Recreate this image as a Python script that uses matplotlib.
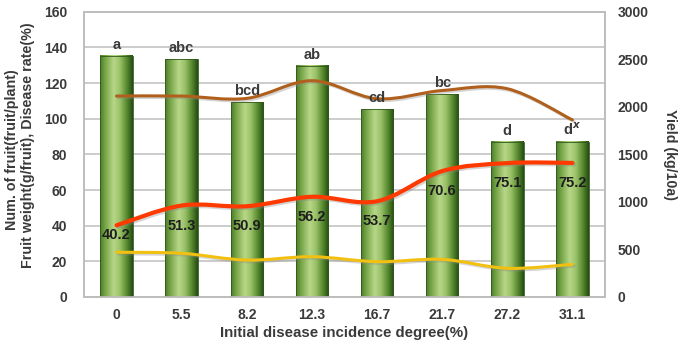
import numpy as np
import matplotlib
matplotlib.use('Agg')
import matplotlib.pyplot as plt
from matplotlib.path import Path
from matplotlib.patches import PathPatch
from matplotlib.colors import LinearSegmentedColormap
import matplotlib.patheffects as pe

plt.rcParams['font.family'] = ['Liberation Sans', 'DejaVu Sans']
plt.rcParams['font.weight'] = 'bold'

# data
incidence = ['0', '5.5', '8.2', '12.3', '16.7', '21.7', '27.2', '31.1']
yield_kg = [2535, 2500, 2048, 2432, 1974, 2131, 1633, 1633]
letters = ['a', 'abc', 'bcd', 'ab', 'cd', 'bc', 'd', 'd$^{x}$']
fruit_weight = [112.7, 112.7, 111.4, 121.3, 111.2, 115.8, 116.8, 99.3]
disease_rate = [40.2, 51.3, 50.9, 56.2, 53.7, 70.6, 75.1, 75.2]
num_fruit = [25.1, 24.5, 20.7, 22.6, 19.8, 21.1, 16.1, 18.3]

txt = '#3a3a3a'
grid_c = '#c8c8c8'


def smooth_path(xs, ys):
    # excel-like smoothed line: bezier segments through the points
    p = np.column_stack([xs, ys]).astype(float)
    verts = [p[0]]
    codes = [Path.MOVETO]
    n = len(p)
    for i in range(n - 1):
        p0 = p[i - 1] if i > 0 else p[i]
        p3 = p[i + 2] if i + 2 < n else p[i + 1]
        c1 = p[i] + (p[i + 1] - p0) / 6
        c2 = p[i + 1] - (p3 - p[i]) / 6
        verts += [c1, c2, p[i + 1]]
        codes += [Path.CURVE4] * 3
    return Path(verts, codes)


fig = plt.figure(figsize=(6.82, 3.59), dpi=100)
fig.subplots_adjust(left=84/682, right=605/682, top=1-11.7/359, bottom=1-297/359)
ax = fig.add_subplot(111)
ax2 = ax.twinx()

x = np.arange(len(incidence))
ax.set_xlim(-0.5, len(incidence) - 0.5)
ax.set_ylim(0, 160)
ax2.set_ylim(0, 3000)
ax.set_yticks(np.arange(0, 161, 20))
ax2.set_yticks(np.arange(0, 3001, 500))
ax.yaxis.grid(True, color=grid_c, lw=1.3)
ax.set_axisbelow(True)

for a in (ax, ax2):
    for s in a.spines.values():
        s.set_color('#bdbdbd')
        s.set_linewidth(1.2)
    a.tick_params(length=0, colors=txt, labelsize=10)
ax.tick_params(axis='y', pad=12)
ax2.tick_params(axis='y', pad=9)
ax.tick_params(axis='x', pad=8)
ax.set_xticks(x)
ax.set_xticklabels(incidence)
for lab in ax.get_xticklabels() + ax.get_yticklabels() + ax2.get_yticklabels():
    lab.set_fontweight('bold')

# bars (yield) with cylinder-like gradient
cmap = LinearSegmentedColormap.from_list('barg', [
    (0.0, '#4c7c28'), (0.15, '#77a447'), (0.42, '#b7d788'),
    (0.6, '#9cc26a'), (0.82, '#588a30'), (1.0, '#254d12')])
grad = np.linspace(0, 1, 64).reshape(1, -1)
bars = ax2.bar(x, yield_kg, width=0.5, color='none', edgecolor='#2f5a1a', lw=0.6, zorder=2)
for b in bars:
    ax2.imshow(grad, cmap=cmap, aspect='auto', zorder=1.9,
               extent=[b.get_x(), b.get_x() + b.get_width(), 0, b.get_height()])
ax2.set_xlim(-0.5, len(incidence) - 0.5)
ax2.set_ylim(0, 3000)

for b, l in zip(bars, letters):
    ax2.annotate(l, (b.get_x() + b.get_width() / 2, b.get_height()),
                 xytext=(0, 3), textcoords='offset points', ha='center', va='bottom',
                 fontsize=10.5, color=txt, fontweight='bold', zorder=5)

# lines on left scale, drawn above bars
shadow = [pe.SimpleLineShadow(offset=(1.2, -1.2), shadow_color='#888888', alpha=0.35), pe.Normal()]
for vals, col, lw in [(fruit_weight, '#b0601c', 2.2), (num_fruit, '#f2c010', 2.2),
                      (disease_rate, '#ff3a00', 3.0)]:
    patch = PathPatch(smooth_path(x, vals), facecolor='none', edgecolor=col, lw=lw,
                      transform=ax.transData, zorder=4, capstyle='round')
    patch.set_path_effects(shadow)
    ax2.add_patch(patch)

for i, v in enumerate(disease_rate):
    off = -7 if i == 0 else -14.5
    ax2.annotate(f'{v}', (x[i], v), xycoords=ax.transData, xytext=(0, off),
                 textcoords='offset points', ha='center', va='center',
                 fontsize=10.5, color='#1e1e1e', fontweight='bold', zorder=6)

fig.text(12/682, 1-150/359, 'Num. of fruit(fruit/plant)', rotation=90,
         ha='center', va='center', fontsize=10.3, color=txt, fontweight='bold')
fig.text(28/682, 1-145/359, 'Fruit weight(g/fruit), Disease rate(%)', rotation=90,
         ha='center', va='center', fontsize=10.3, color=txt, fontweight='bold')
fig.text(670/682, 1-155/359, 'Yield (kg/10a)', rotation=-90,
         ha='center', va='center', fontsize=10.2, color=txt, fontweight='bold')
ax.set_xlabel('Initial disease incidence degree(%)', fontsize=10.8, color=txt,
              fontweight='bold', labelpad=3)

fig.savefig('out.png', dpi=100)
